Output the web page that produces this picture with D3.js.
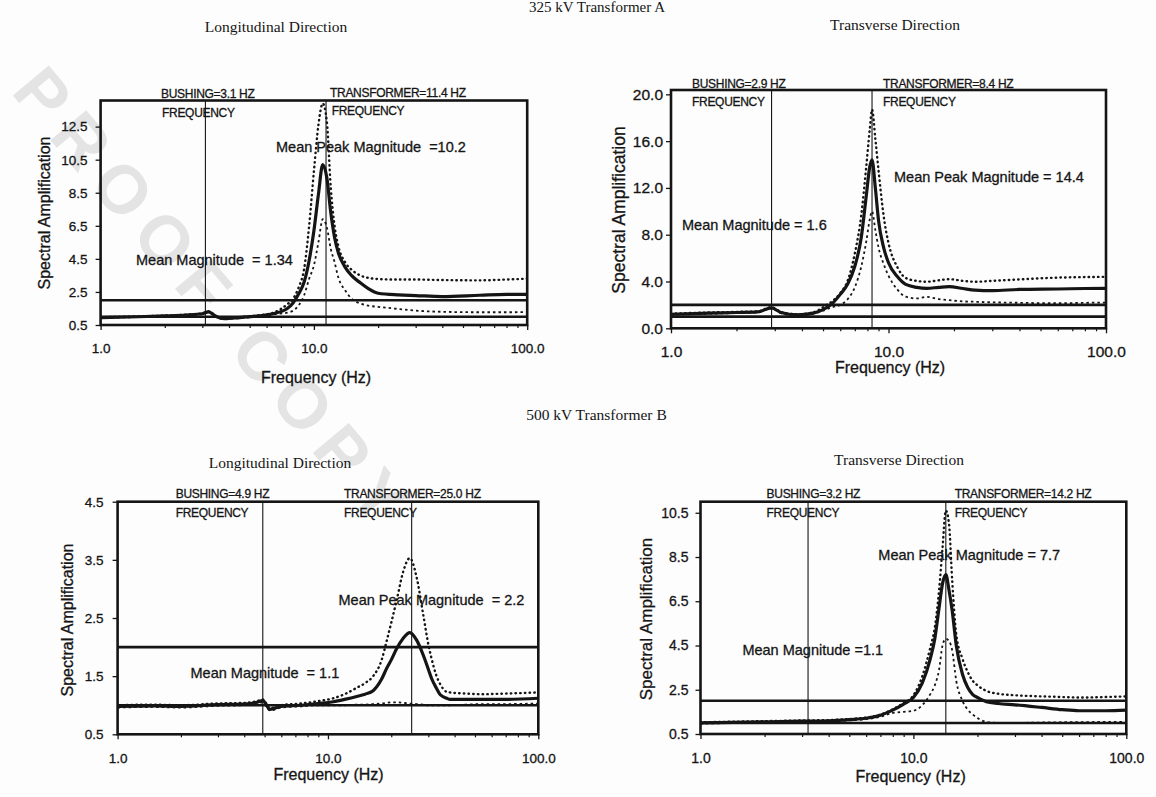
<!DOCTYPE html>
<html>
<head>
<meta charset="utf-8">
<script src="https://cdn.jsdelivr.net/npm/d3@7"></script>
<style>
  body { margin: 0; background: #fdfdfd; }
  svg text { white-space: pre; }
</style>
</head>
<body>
<svg id="page" width="1156" height="797"></svg>
<script>
// ---- values ----
// 325 kV Transformer A, longitudinal
const longAFreq  = [1, 1.5, 2, 2.5, 3, 3.2, 3.5, 3.8, 4.5, 5.5, 6.5, 7.5, 8, 8.5, 9, 9.5, 10, 10.5, 11, 11.5, 12, 12.5, 13, 14, 15, 16.5, 18, 20, 25, 30, 40, 60, 80, 100];
const longAMean  = [0.95, 1.0, 1.05, 1.1, 1.18, 1.3, 1.0, 0.88, 0.95, 1.05, 1.2, 1.5, 1.85, 2.4, 3.1, 4.4, 6.2, 8.4, 10.2, 9.4, 7.3, 5.8, 4.9, 4.0, 3.5, 3.05, 2.7, 2.42, 2.32, 2.28, 2.22, 2.3, 2.35, 2.35];
const longAUpper = [0.97, 1.02, 1.07, 1.12, 1.2, 1.32, 1.03, 0.92, 0.98, 1.08, 1.26, 1.75, 2.1, 2.8, 3.9, 6.5, 9.8, 12.6, 13.9, 12.8, 8.8, 6.5, 5.3, 4.3, 3.85, 3.5, 3.35, 3.28, 3.25, 3.25, 3.22, 3.2, 3.25, 3.3];
const longALower = [0.93, 0.98, 1.03, 1.08, 1.16, 1.27, 0.97, 0.85, 0.92, 1.02, 1.15, 1.25, 1.37, 1.7, 2.3, 3.3, 4.1, 5.5, 6.9, 6.4, 5.1, 4.3, 3.4, 2.6, 2.1, 1.8, 1.67, 1.6, 1.47, 1.37, 1.3, 1.27, 1.27, 1.28];

// 325 kV Transformer A, transverse
const transAFreq  = [1, 1.5, 2, 2.5, 2.9, 3.2, 3.8, 4.5, 5, 5.5, 6, 6.5, 7, 7.5, 7.9, 8.2, 8.4, 8.7, 9, 9.5, 10, 11, 12, 13.5, 15, 17, 19, 22, 25, 30, 40, 60, 80, 100];
const transAMean  = [1.2, 1.3, 1.35, 1.4, 1.75, 1.35, 1.15, 1.3, 1.6, 2.1, 2.9, 3.8, 5.3, 7.8, 11.3, 13.8, 14.4, 12.0, 9.2, 6.9, 5.6, 4.4, 3.75, 3.5, 3.42, 3.5, 3.56, 3.4, 3.27, 3.22, 3.32, 3.36, 3.4, 3.42];
const transAUpper = [1.25, 1.35, 1.4, 1.45, 1.8, 1.4, 1.2, 1.35, 1.8, 2.3, 3.0, 4.1, 6.4, 9.7, 13.8, 17.0, 18.7, 16.2, 13.5, 9.6, 7.3, 5.2, 4.3, 4.05, 3.98, 4.1, 4.2, 4.05, 3.98, 4.05, 4.18, 4.33, 4.38, 4.4];
const transALower = [1.15, 1.25, 1.3, 1.35, 1.7, 1.3, 1.1, 1.25, 1.5, 1.8, 2.0, 2.5, 3.5, 5.3, 7.4, 9.3, 10.0, 8.4, 6.9, 5.5, 4.5, 3.3, 2.7, 2.55, 2.68, 2.5, 2.4, 2.3, 2.27, 2.22, 2.18, 2.14, 2.18, 2.2];

// 500 kV Transformer B, longitudinal
const longBFreq  = [1, 1.5, 2, 3, 4, 4.6, 4.9, 5.3, 6, 7.4, 9, 10.6, 12, 13.7, 15, 16.4, 18, 19, 20, 21.2, 22.8, 24.5, 26.4, 28.4, 30, 31.1, 32.7, 34.2, 36.7, 38, 45, 55, 70, 100];
const longBMean  = [0.98, 0.99, 0.98, 1.01, 1.02, 1.05, 1.08, 0.93, 0.98, 1.0, 1.03, 1.06, 1.1, 1.15, 1.19, 1.25, 1.45, 1.63, 1.78, 1.97, 2.15, 2.25, 2.12, 1.86, 1.62, 1.46, 1.3, 1.18, 1.12, 1.1, 1.1, 1.1, 1.1, 1.12];
const longBUpper = [1.0, 1.01, 1.0, 1.03, 1.04, 1.07, 1.1, 0.95, 1.0, 1.03, 1.07, 1.12, 1.19, 1.3, 1.38, 1.5, 1.78, 2.1, 2.42, 2.8, 3.3, 3.53, 3.2, 2.55, 2.05, 1.8, 1.52, 1.36, 1.23, 1.22, 1.2, 1.19, 1.2, 1.22];
const longBLower = [0.96, 0.97, 0.96, 0.99, 1.0, 1.02, 1.05, 0.91, 0.96, 0.98, 1.0, 1.0, 1.0, 1.01, 1.01, 1.02, 1.03, 1.04, 1.05, 1.05, 1.04, 1.03, 1.02, 1.01, 1.0, 1.0, 1.0, 1.0, 1.0, 1.0, 1.01, 1.02, 1.02, 1.03];

// 500 kV Transformer B, transverse
const transBFreq  = [1, 2, 3, 4, 5, 6, 7, 8, 9, 10, 11, 12, 12.6, 13.2, 13.7, 14.2, 14.7, 15.2, 15.9, 17, 18, 19, 20, 22, 25, 30, 40, 50, 60, 80, 100];
const transBMean  = [1.0, 1.05, 1.08, 1.1, 1.15, 1.21, 1.35, 1.58, 1.85, 2.15, 2.8, 3.9, 4.8, 6.2, 7.3, 7.7, 7.0, 6.1, 4.5, 3.2, 2.6, 2.28, 2.15, 1.96, 1.88, 1.82, 1.7, 1.6, 1.55, 1.55, 1.58];
const transBUpper = [1.03, 1.08, 1.11, 1.13, 1.18, 1.24, 1.38, 1.62, 1.9, 2.25, 3.1, 4.4, 5.3, 7.0, 8.9, 10.6, 10.0, 7.5, 5.0, 3.9, 3.3, 2.9, 2.7, 2.45, 2.32, 2.25, 2.2, 2.17, 2.15, 2.17, 2.2];
const transBLower = [0.97, 1.02, 1.05, 1.07, 1.12, 1.17, 1.28, 1.45, 1.5, 1.55, 1.8, 2.3, 2.7, 3.4, 4.5, 4.8, 4.7, 4.3, 2.9, 2.0, 1.6, 1.38, 1.22, 1.05, 1.0, 1.0, 1.02, 1.03, 1.03, 1.05, 1.05];

// bushing and transformer natural frequencies (Hz)
const longAModes  = [3.1, 11.4];
const transAModes = [2.9, 8.4];
const longBModes  = [4.9, 25.0];
const transBModes = [3.2, 14.2];

// horizontal reference levels drawn across every panel
const referenceLevels = [1, 2];

// axis ticks
const longAYTicks  = [0.5, 2.5, 4.5, 6.5, 8.5, 10.5, 12.5];
const transAYTicks = [0, 4, 8, 12, 16, 20];
const longBYTicks  = [0.5, 1.5, 2.5, 3.5, 4.5];
const transBYTicks = [0.5, 2.5, 4.5, 6.5, 8.5, 10.5];
const freqMajorTicks = [1, 10, 100];
const freqMinorTicks = [2, 3, 4, 5, 6, 7, 8, 9, 20, 30, 40, 50, 60, 70, 80, 90];

// texts
const groupTitles = ["325 kV Transformer A", "500 kV Transformer B"];
const panelTitles = ["Longitudinal Direction", "Transverse Direction", "Longitudinal Direction", "Transverse Direction"];
const longANotes  = ["BUSHING=3.1 HZ", "FREQUENCY", "TRANSFORMER=11.4 HZ", "FREQUENCY", "Mean Peak Magnitude  =10.2", "Mean Magnitude  = 1.34"];
const transANotes = ["BUSHING=2.9 HZ", "FREQUENCY", "TRANSFORMER=8.4 HZ", "FREQUENCY", "Mean Peak Magnitude = 14.4", "Mean Magnitude = 1.6"];
const longBNotes  = ["BUSHING=4.9 HZ", "FREQUENCY", "TRANSFORMER=25.0 HZ", "FREQUENCY", "Mean Peak Magnitude  = 2.2", "Mean Magnitude  = 1.1"];
const transBNotes = ["BUSHING=3.2 HZ", "FREQUENCY", "TRANSFORMER=14.2 HZ", "FREQUENCY", "Mean Peak Magnitude = 7.7", "Mean Magnitude =1.1"];
const xAxisTitle = "Frequency (Hz)";
const yAxisTitle = "Spectral Amplification";
const watermarkText = "PROOF COPY";

// ---- drawing ----
var SANS = "'Liberation Sans', Arial, sans-serif";
var SERIF = "'Liberation Serif', 'Times New Roman', serif";
var INK = "#151515";

var svg = d3.select("#page");
svg.append("rect").attr("width", 1156).attr("height", 797).attr("fill", "#fdfdfd");

// faint diagonal stamp behind the charts
svg.append("text").text(watermarkText)
	.attr("transform", "translate(10,92) rotate(50)")
	.style("font-family", SANS).style("font-weight", 700)
	.style("font-size", "68px").style("letter-spacing", "13px")
	.style("fill", "#e4e4e4");

// layout of each panel on the page (pixels)
var panels = [
	{ id: "la", freq: longAFreq, mean: longAMean, upper: longAUpper, lower: longALower,
	  yTicks: longAYTicks, yMax: 14.08, modes: longAModes, notes: longANotes, title: panelTitles[0],
	  box: { l: 100.6, r: 527.2, t: 100.5, b: 325 }, tickGap: 13, tickFont: 13.5, xLabDy: 28,
	  xTitle: [316, 383], yTitle: [44, 213, 16], titleAt: [276, 31.5],
	  notePos: [[161, 98], [162, 116.7], [330, 97], [331.7, 115], [276, 151.7], [136, 265]] },
	{ id: "ta", freq: transAFreq, mean: transAMean, upper: transAUpper, lower: transALower,
	  yTicks: transAYTicks, yMax: 20.37, modes: transAModes, notes: transANotes, title: panelTitles[1],
	  box: { l: 671, r: 1106, t: 90, b: 328.3 }, tickGap: 8, tickFont: 15.5, xLabDy: 29,
	  xTitle: [890, 373], yTitle: [619, 210, 17.5], titleAt: [895, 30],
	  notePos: [[692, 88], [692, 106], [883, 88], [883, 106], [894, 181.7], [682, 230]] },
	{ id: "lb", freq: longBFreq, mean: longBMean, upper: longBUpper, lower: longBLower,
	  yTicks: longBYTicks, yMax: 4.5, modes: longBModes, notes: longBNotes, title: panelTitles[2],
	  box: { l: 117.6, r: 538.3, t: 501.7, b: 734.3 }, tickGap: 14, tickFont: 13.5, xLabDy: 29,
	  xTitle: [328.5, 780], yTitle: [67.5, 620, 16], titleAt: [280, 468],
	  notePos: [[175.7, 498], [175.7, 517], [344, 498], [344, 517], [338.5, 605], [190.5, 678.3]] },
	{ id: "tb", freq: transBFreq, mean: transBMean, upper: transBUpper, lower: transBLower,
	  yTicks: transBYTicks, yMax: 11.0, modes: transBModes, notes: transBNotes, title: panelTitles[3],
	  box: { l: 700.5, r: 1126.3, t: 501.7, b: 734 }, tickGap: 12, tickFont: 14, xLabDy: 29,
	  xTitle: [910.6, 781.5], yTitle: [646, 619, 17], titleAt: [899, 465],
	  notePos: [[766.6, 498], [766.6, 516.7], [954.7, 498], [954.7, 516.7], [878.3, 560], [742.4, 655]] }
];

// scanned print looks a little heavier than plain text
function inked(sel) {
	return sel.style("fill", INK).style("stroke", INK).style("stroke-width", "0.3px");
}

function drawPanel(p) {
	var box = p.box;
	var x = d3.scaleLog().domain([1, 100]).range([box.l, box.r]);
	var y = d3.scaleLinear().domain([p.yTicks[0], p.yMax]).range([box.b, box.t]);

	var g = svg.append("g").attr("class", "panel-" + p.id);

	g.append("clipPath").attr("id", "clip-" + p.id)
		.append("rect")
		.attr("x", box.l).attr("y", box.t)
		.attr("width", box.r - box.l).attr("height", box.b - box.t);

	var plot = g.append("g").attr("clip-path", `url(#clip-${ p.id })`);

	// horizontal reference lines at amplification 1 and 2
	plot.selectAll(".ref")
		.data(referenceLevels)
		.enter()
		.append("line")
		.attr("x1", x(1)).attr("x2", x(100))
		.attr("y1", d => y(d)).attr("y2", d => y(d))
		.style("stroke", INK)
		.style("stroke-width", "2.6px");

	// bushing / transformer frequency markers
	g.selectAll(".mode")
		.data(p.modes)
		.enter()
		.append("line")
		.attr("x1", d => x(d)).attr("x2", d => x(d))
		.attr("y1", box.t).attr("y2", box.b)
		.style("stroke", INK)
		.style("stroke-width", "1.1px");

	var rows = p.freq.map((f, i) => ({ f: f, mean: p.mean[i], upper: p.upper[i], lower: p.lower[i] }));

	function curve(key) {
		return d3.line()
			.x(d => x(d.f))
			.y(d => y(d[key]))
			.curve(d3.curveMonotoneX)(rows);
	}

	plot.append("path").attr("d", curve("lower"))
		.style("fill", "none").style("stroke", INK)
		.style("stroke-width", "1.8px")
		.style("stroke-dasharray", "2.5,3");

	plot.append("path").attr("d", curve("upper"))
		.style("fill", "none").style("stroke", INK)
		.style("stroke-width", "2.4px")
		.style("stroke-linecap", "round")
		.style("stroke-dasharray", "0.5,4.2");

	plot.append("path").attr("d", curve("mean"))
		.style("fill", "none").style("stroke", INK)
		.style("stroke-width", "3.2px")
		.style("stroke-linejoin", "round");

	// plot frame
	g.append("rect")
		.attr("x", box.l).attr("y", box.t)
		.attr("width", box.r - box.l).attr("height", box.b - box.t)
		.style("fill", "none").style("stroke", INK).style("stroke-width", "2.6px");

	// axes
	var yAxis = g.append("g")
		.attr("transform", `translate(${ box.l },0)`)
		.call(d3.axisLeft(y).tickValues(p.yTicks).tickFormat(d3.format(".1f"))
			.tickSize(5).tickPadding(p.tickGap - 5));
	var xAxis = g.append("g")
		.attr("transform", `translate(0,${ box.b })`)
		.call(d3.axisBottom(x).tickValues(freqMajorTicks).tickFormat(d3.format(".1f"))
			.tickSize(5).tickPadding(p.xLabDy - 5 - 0.71 * p.tickFont));
	g.append("g")
		.attr("transform", `translate(0,${ box.b })`)
		.call(d3.axisBottom(x).tickValues(freqMinorTicks).tickFormat("").tickSize(3))
		.call(a => a.select(".domain").remove())
		.selectAll("line").style("stroke", INK).style("stroke-width", "1.2px");

	[yAxis, xAxis].forEach(a => {
		a.select(".domain").remove();
		a.selectAll("line").style("stroke", INK).style("stroke-width", "1.3px");
		inked(a.selectAll("text")
			.style("font-family", SANS)
			.style("font-size", p.tickFont + "px"));
	});

	// axis titles
	inked(g.append("text").text(xAxisTitle)
		.attr("x", p.xTitle[0]).attr("y", p.xTitle[1])
		.style("font-family", SANS).style("font-size", "16px")
		.style("text-anchor", "middle"));

	inked(g.append("text").text(yAxisTitle)
		.attr("transform", `translate(${ p.yTitle[0] },${ p.yTitle[1] }) rotate(-90)`)
		.attr("dy", "0.35em")
		.style("font-family", SANS).style("font-size", p.yTitle[2] + "px")
		.style("text-anchor", "middle"));

	// panel title
	g.append("text").text(p.title)
		.attr("x", p.titleAt[0]).attr("y", p.titleAt[1])
		.style("font-family", SERIF).style("font-size", "15.5px")
		.style("text-anchor", "middle").style("fill", INK);

	// annotations
	inked(g.selectAll(".note")
		.data(p.notes)
		.enter()
		.append("text")
		.text(d => d)
		.attr("x", (d, i) => p.notePos[i][0])
		.attr("y", (d, i) => p.notePos[i][1])
		.style("font-family", SANS)
		.style("font-size", (d, i) => i < 4 ? "12px" : "14.5px")
		.style("letter-spacing", (d, i) => i < 4 ? "-0.3px" : "0px"));
}

panels.forEach(drawPanel);

// group headings
svg.append("text").text(groupTitles[0])
	.attr("x", 597).attr("y", 12)
	.style("font-family", SERIF).style("font-size", "15px")
	.style("text-anchor", "middle").style("fill", INK);
svg.append("text").text(groupTitles[1])
	.attr("x", 596.5).attr("y", 419.5)
	.style("font-family", SERIF).style("font-size", "15.5px")
	.style("text-anchor", "middle").style("fill", INK);
</script>
</body>
</html>
